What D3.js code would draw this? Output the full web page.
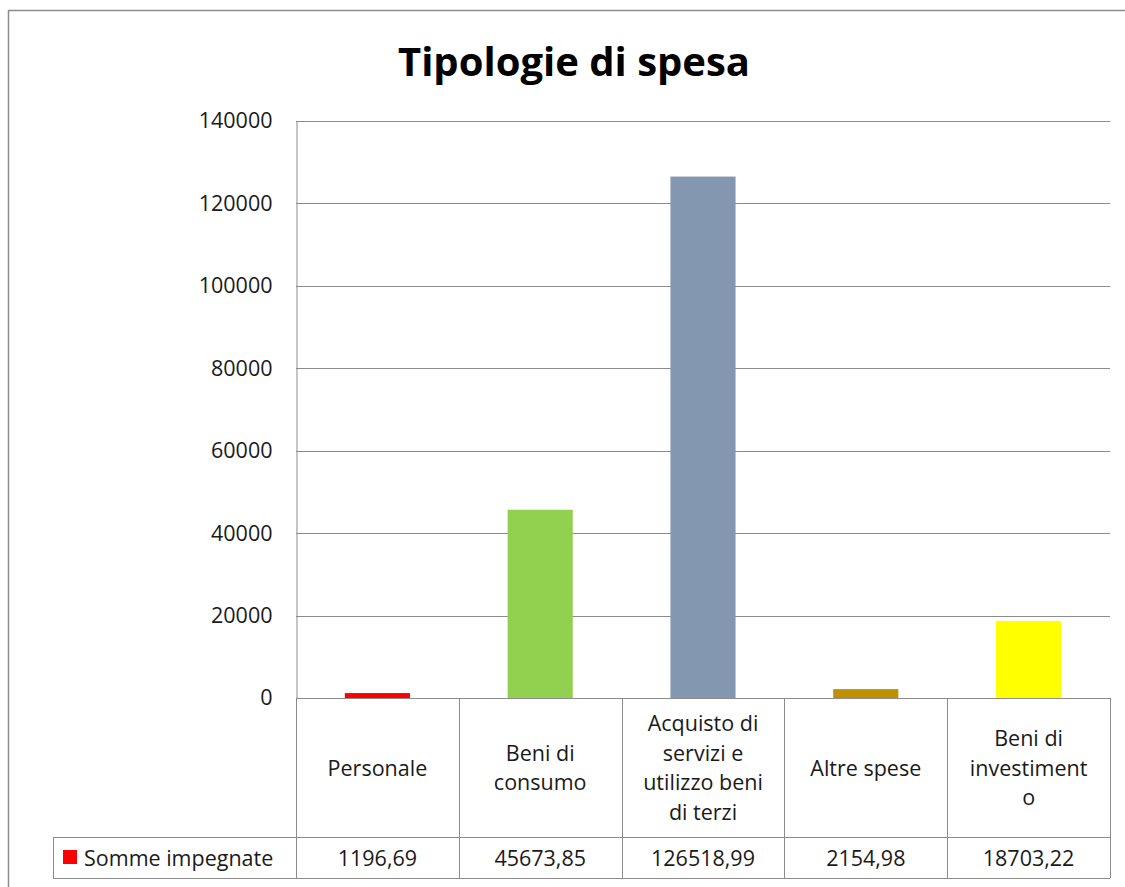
<!DOCTYPE html>
<html lang="it">
<head>
<meta charset="UTF-8">
<title>Tipologie di spesa</title>
<script src="https://cdn.jsdelivr.net/npm/d3@7"></script>
<style>
	body{ margin:0; background:#fff; }
	text{ font-family:"Open Sans", "Noto Sans", sans-serif; fill:#1a1a1a; }
</style>
</head>
<body>
<svg></svg>
<script>
var categories = ["Personale", "Beni di consumo", "Acquisto di servizi e utilizzo beni di terzi", "Altre spese", "Beni di investimento"];
var categoryLines = [["Personale"], ["Beni di", "consumo"], ["Acquisto di", "servizi e", "utilizzo beni", "di terzi"], ["Altre spese"], ["Beni di", "investiment", "o"]];
var values = [1196.69, 45673.85, 126518.99, 2154.98, 18703.22];
var valueLabels = ["1196,69", "45673,85", "126518,99", "2154,98", "18703,22"];
var colors = ["#ff0000", "#92d050", "#8497b0", "#bf9000", "#ffff00"];
var seriesName = "Somme impegnate";
var yTicks = [0, 20000, 40000, 60000, 80000, 100000, 120000, 140000];

var W = 1125, H = 887;
var svg = d3.select("svg").attr("width", W).attr("height", H);

// outer chart border (only left and top visible)
svg.append("path").attr("d", "M8.5," + H + "V10.5H" + W)
	.attr("fill", "none").attr("stroke", "#8c8c8c").attr("stroke-width", 1.5);

svg.append("text").attr("x", 574).attr("y", 76).attr("text-anchor", "middle")
	.style("font-size", "40px").style("font-weight", "700").style("fill", "#000")
	.text("Tipologie di spesa");

var pLeft = 296, pRight = 1110, pTop = 121, base = 698;
var rowBottom = 837, tableBottom = 878, legendLeft = 53;
var fs = "21.5px";

var x = d3.scaleBand().domain(categories).range([pLeft, pRight]).paddingInner(0).paddingOuter(0);
var y = d3.scaleLinear().domain([0, 140000]).range([base, pTop]);

// gridlines
svg.append("g").selectAll("line").data(yTicks).join("line")
	.attr("x1", pLeft).attr("x2", pRight)
	.attr("y1", d => Math.round(y(d)) + 0.5).attr("y2", d => Math.round(y(d)) + 0.5)
	.attr("stroke", "#8c8c8c").attr("stroke-width", 1);

// y axis
var yAxis = svg.append("g").attr("transform", "translate(" + (pLeft + 0.5) + ",0)")
	.call(d3.axisLeft(y).tickValues(yTicks).tickFormat(d3.format("d")).tickSize(0).tickPadding(24));
yAxis.select(".domain").attr("stroke", "#8c8c8c");
yAxis.selectAll("text").style("font-size", fs).style("font-family", "'Open Sans', sans-serif").attr("fill", "#1a1a1a");

// bars
var bw = x.bandwidth() * 0.4;
svg.append("g").selectAll("rect").data(values).join("rect")
	.attr("x", (d, i) => x(categories[i]) + (x.bandwidth() - bw) / 2)
	.attr("width", bw)
	.attr("y", d => y(d))
	.attr("height", d => base - y(d))
	.attr("fill", (d, i) => colors[i]);

// data table
var g = svg.append("g").attr("stroke", "#8c8c8c").attr("stroke-width", 1).attr("fill", "none");
var bounds = categories.map(c => x(c)).concat([pRight]);
bounds.forEach(function(bx) {
	g.append("line").attr("x1", Math.round(bx) + 0.5).attr("x2", Math.round(bx) + 0.5)
		.attr("y1", base).attr("y2", tableBottom);
});
g.append("line").attr("x1", legendLeft).attr("x2", pRight).attr("y1", rowBottom + 0.5).attr("y2", rowBottom + 0.5);
g.append("line").attr("x1", legendLeft).attr("x2", pRight).attr("y1", tableBottom + 0.5).attr("y2", tableBottom + 0.5);
g.append("line").attr("x1", legendLeft + 0.5).attr("x2", legendLeft + 0.5).attr("y1", rowBottom).attr("y2", tableBottom);

var lh = 29.5;
categoryLines.forEach(function(lines, i) {
	var cx = x(categories[i]) + x.bandwidth() / 2;
	var cy = (base + rowBottom) / 2;
	var t = svg.append("text").attr("text-anchor", "middle").style("font-size", fs);
	lines.forEach(function(s, k) {
		t.append("tspan").attr("x", cx)
			.attr("y", cy + (k - (lines.length - 1) / 2) * lh + 8)
			.text(s);
	});
});

values.forEach(function(v, i) {
	svg.append("text").attr("x", x(categories[i]) + x.bandwidth() / 2)
		.attr("y", (rowBottom + tableBottom) / 2 + 8).attr("text-anchor", "middle")
		.style("font-size", fs).text(valueLabels[i]);
});

// legend key
svg.append("rect").attr("x", 63).attr("y", 850).attr("width", 14).attr("height", 14).attr("fill", colors[0]);
svg.append("text").attr("x", 84).attr("y", (rowBottom + tableBottom) / 2 + 8)
	.style("font-size", fs).text(seriesName);
</script>
</body>
</html>
